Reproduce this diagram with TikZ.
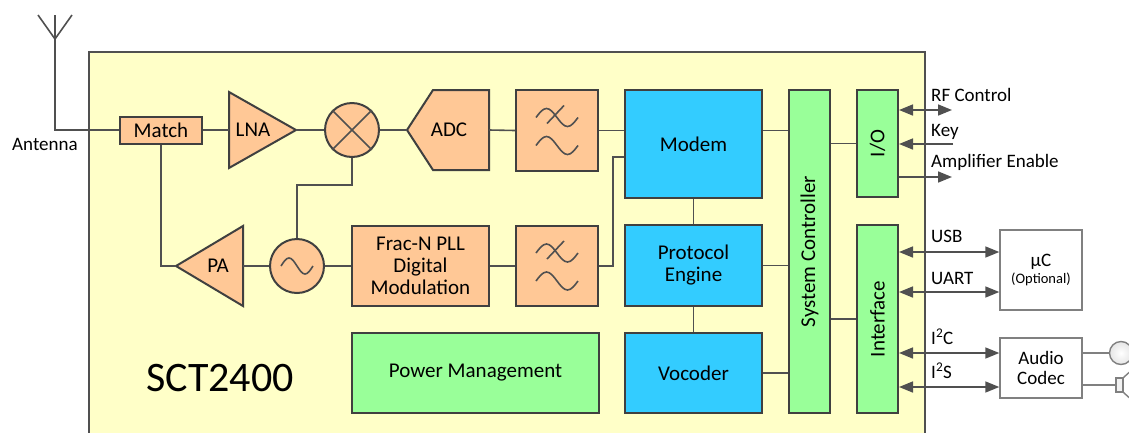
\documentclass[tikz,border=0pt]{standalone}
\usepackage{fontspec}
\setmainfont{Carlito}
\usepackage{graphicx}
\usetikzlibrary{arrows.meta}

\definecolor{chipbg}{HTML}{FFFFC8}
\definecolor{rfcol}{HTML}{FFC896}
\definecolor{dspcol}{HTML}{33CCFF}
\definecolor{ctlcol}{HTML}{99FF99}
\definecolor{edgecol}{HTML}{404040}
\definecolor{wirecol}{HTML}{505050}

% filter glyph drawn inside a filter block
\newcommand{\filtsym}[1]{%
  \draw[wire] ([shift={(-21,-13)}]#1.center) sin ++(10.5,-9) cos ++(10.5,9) sin ++(10.5,9) cos ++(10.5,-9);
  \draw[wire] ([shift={(-10,-7)}]#1.center) -- ++(17,-18);
  \draw[wire] ([shift={(-21,15)}]#1.center) sin ++(10.5,-9) cos ++(10.5,9) sin ++(10.5,9) cos ++(10.5,-9);
}

\begin{document}
\begin{tikzpicture}[x=1pt, y=-1pt,
    wire/.style={draw=wirecol, line width=1.6pt},
    block/.style={draw=edgecol, line width=2pt, inner sep=0pt, align=center, font=\fontsize{21}{22}\selectfont},
    rfblock/.style={block, fill=rfcol},
    dspblock/.style={block, fill=dspcol},
    ctlblock/.style={block, fill=ctlcol},
    extblock/.style={draw=gray, line width=1.4pt, fill=white, inner sep=0pt, align=center, font=\fontsize{19}{20}\selectfont},
    txt/.style={inner sep=0pt, font=\fontsize{21}{22}\selectfont},
    lbl/.style={inner sep=0pt, anchor=base west, font=\fontsize{19}{20}\selectfont},
    sig/.style={wire, >={Triangle[length=14pt, width=11pt]}},
  ]
    \useasboundingbox (0,0) rectangle (1129,432);
    \clip (0,0) rectangle (1129,432);

    % Chip outline
    \draw[wirecol, line width=1.4pt, fill=chipbg] (89,52) rectangle (925,460);
    \node[inner sep=0pt, anchor=base west, font=\fontsize{42}{44}\selectfont] (chip) at (146,391) {SCT2400};

    % Antenna
    \coordinate (antTop) at (55,15);
    \draw[wire] (38,15) -- (55,39) -- (72,15);
    \node[lbl] (antTxt) at (12,150) {Antenna};

    % RF chain, receive row
    \node[rfblock, minimum width=82pt, minimum height=27pt] (match) at (161,130) {Match};
    \coordinate (lnaIn) at (229,130);
    \coordinate (lnaOut) at (296,130);
    \draw[edgecol, line width=2pt, fill=rfcol] (229,92) -- (lnaOut) -- (229,168) -- cycle;
    \node[txt] (lna) at (253,130) {LNA};
    \node[rfblock, circle, minimum size=54pt] (mixer) at (352,130) {};
    \draw[wire] (mixer.45) -- (mixer.225);
    \draw[wire] (mixer.135) -- (mixer.315);
    \coordinate (adcIn) at (407,130);
    \coordinate (adcOut) at (489,130);
    \draw[edgecol, line width=2pt, fill=rfcol] (adcIn) -- (433,90) -- (489,90) -- (489,170) -- (433,170) -- cycle;
    \node[txt] (adc) at (449,130) {ADC};
    \node[rfblock, minimum width=82pt, minimum height=81pt] (filt1) at (557,130.5) {};
    \filtsym{filt1}

    % RF chain, transmit row
    \coordinate (paIn) at (243,266);
    \coordinate (paOut) at (176,266);
    \draw[edgecol, line width=2pt, fill=rfcol] (243,226) -- (243,306) -- (paOut) -- cycle;
    \node[txt] (pa) at (218,266) {PA};
    \node[rfblock, circle, minimum size=54pt] (osc) at (297,266) {};
    \draw[wire] ([xshift=-16pt]osc.center) sin ++(8,-8) cos ++(8,8) sin ++(8,8) cos ++(8,-8);
    \node[rfblock, minimum width=137pt, minimum height=80pt] (pll) at (420.5,266) {Frac-N PLL\\Digital\\Modulation};
    \node[rfblock, minimum width=82pt, minimum height=80pt] (filt2) at (557,266) {};
    \filtsym{filt2}
    \node[ctlblock, minimum width=247pt, minimum height=80pt] (pm) at (475.5,373) {Power Management};

    % Digital blocks
    \node[dspblock, minimum width=137pt, minimum height=108pt] (modem) at (693.5,144) {Modem};
    \node[dspblock, minimum width=137pt, minimum height=81pt] (proto) at (693.5,265.5) {Protocol\\Engine};
    \node[dspblock, minimum width=137pt, minimum height=80pt] (voc) at (693.5,373) {Vocoder};
    \node[ctlblock, minimum width=41pt, minimum height=323pt] (sysctl) at (809.5,251.5) {\rotatebox{90}{System Controller}};
    \node[ctlblock, minimum width=41pt, minimum height=107pt] (io) at (877.5,143.5) {\rotatebox{90}{I/O}};
    \node[ctlblock, minimum width=41pt, minimum height=188pt] (iface) at (877.5,319) {\rotatebox{90}{Interface}};

    % External parts
    \node[extblock, minimum width=82pt, minimum height=80pt] (uc) at (1041,270) {µC\\[-3pt]{\fontsize{14.5}{16}\selectfont (Optional)}};
    \node[extblock, minimum width=82pt, minimum height=60pt] (codec) at (1041,368) {Audio\\Codec};
    \node[circle, draw=gray, line width=1.4pt, inner color=white, outer color=gray!20, minimum size=23pt, inner sep=0pt] (mic) at (1121,353) {};
    \node[draw=gray, line width=1.4pt, fill=gray!10, minimum width=7pt, minimum height=14pt, inner sep=0pt] (spk) at (1119.5,385) {};
    \draw[gray, line width=1.4pt] (spk.north east) -- ++(10,-9);
    \draw[gray, line width=1.4pt] (spk.south east) -- ++(10,9);

    % Connections
    \draw[wire] (antTop) |- (match.west);
    \draw[wire] (match.east) -- (lnaIn);
    \draw[wire] (lnaOut) -- (mixer.west);
    \draw[wire] (mixer.east) -- (adcIn);
    \draw[wire] (adcOut) -- (filt1.west);
    \draw[wire] (filt1.east) -- (filt1.east -| modem.west);
    \draw[wire] (match.south) |- (paOut);
    \draw[wire] (paIn) -- (osc.west);
    \draw[wire] (mixer.south) -- ++(0,27) -| (osc.north);
    \draw[wire] (osc.east) -- (pll.west);
    \draw[wire] (pll.east) -- (filt2.west);
    \draw[wire] (filt2.east) -- ++(14,0) |- ([yshift=-13pt]modem.west);
    \draw[wire] (modem.south) -- (proto.north);
    \draw[wire] (proto.south) -- (voc.north);
    \draw[wire] (filt1.east -| modem.east) -- (filt1.east -| sysctl.west);
    \draw[wire] (proto.east) -- (proto.east -| sysctl.west);
    \draw[wire] (voc.east) -- (voc.east -| sysctl.west);
    \draw[wire] (sysctl.east |- io.west) -- (io.west);
    \draw[wire] (sysctl.east |- iface.west) -- (iface.west);

    % I/O lines
    \coordinate (rfc) at (952,110);
    \coordinate (key) at (953,144);
    \coordinate (amp) at (952,177);
    \draw[sig, <->] (io.east |- rfc) -- (rfc);
    \draw[sig, ->] (key) -- (key -| io.east);
    \draw[sig, ->] (io.east |- amp) -- (amp);
    \node[lbl] (rfcTxt) at (931,101) {RF Control};
    \node[lbl] (keyTxt) at (931,136) {Key};
    \node[lbl] (ampTxt) at (931,167) {Amplifier Enable};

    % Interface lines
    \draw[sig, <->] ([yshift=18pt]uc.west) coordinate (usb) -- (usb -| iface.east);
    \draw[sig, <->] ([yshift=-22pt]uc.west) coordinate (uart) -- (uart -| iface.east);
    \draw[sig, <->] ([yshift=15pt]codec.west) coordinate (i2c) -- (i2c -| iface.east);
    \draw[sig, <->] ([yshift=-19pt]codec.west) coordinate (i2s) -- (i2s -| iface.east);
    \node[lbl] (usbTxt) at (931,242) {USB};
    \node[lbl] (uartTxt) at (931,284) {UART};
    \node[lbl] (i2cTxt) at (931,344) {I\textsuperscript{2}C};
    \node[lbl] (i2sTxt) at (931,378) {I\textsuperscript{2}S};
    \draw[draw=gray, line width=1.4pt] (i2c -| codec.east) -- (mic.west);
    \draw[draw=gray, line width=1.4pt] (codec.east |- spk.west) -- (spk.west);
\end{tikzpicture}
\end{document}
